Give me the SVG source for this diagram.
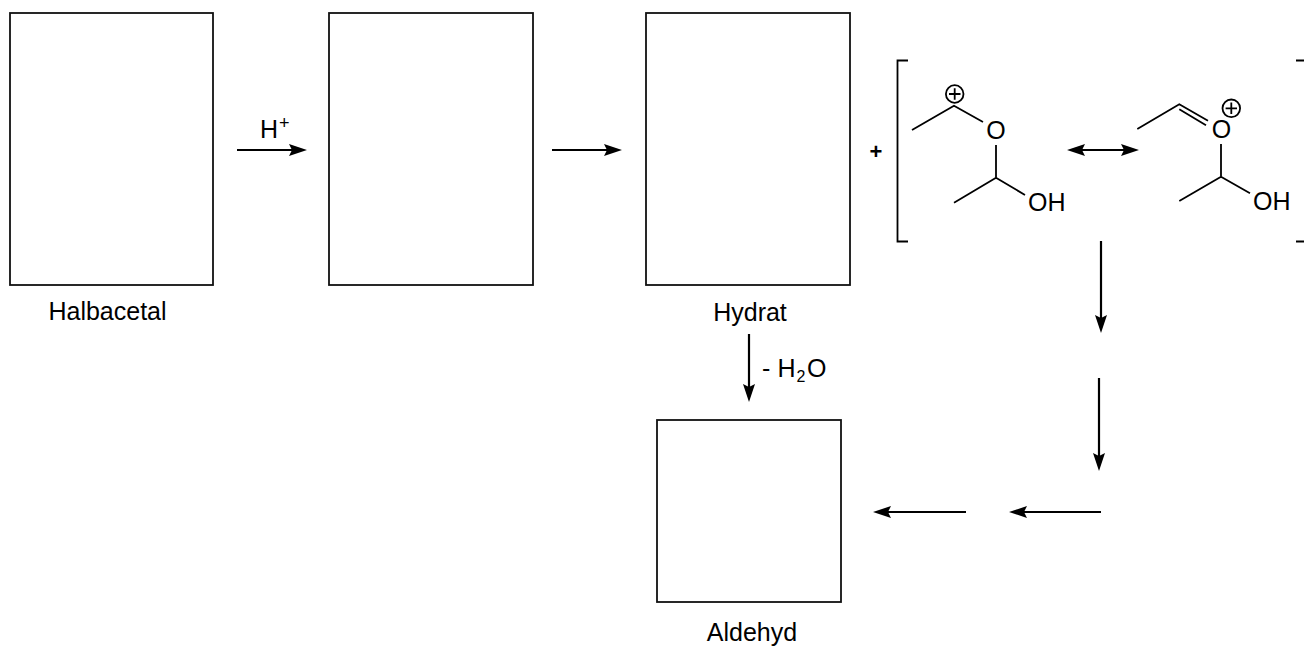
<svg xmlns="http://www.w3.org/2000/svg" width="1304" height="646" viewBox="0 0 1304 646">
<style>
text{font-family:"Liberation Sans",Arial,sans-serif;font-size:25px;fill:#000}
.box{fill:#fff;stroke:#111;stroke-width:1.8}
.b{fill:none;stroke:#000;stroke-width:1.8}
.c{fill:none;stroke:#000;stroke-width:2.2}
</style>
<defs>
<path id="h" d="M0 0L-18 -6L-15 0L-18 6Z" fill="#000"/>
</defs>
<g id="halbacetal"><rect class="box" x="10" y="13" width="203" height="272"/><text x="107.500" y="320" text-anchor="middle">Halbacetal</text></g>
<g id="intermediate"><rect class="box" x="329" y="13" width="204" height="272"/></g>
<g id="hydrat"><rect class="box" x="646" y="13" width="204" height="272"/><text x="750" y="321" text-anchor="middle">Hydrat</text></g>
<g id="aldehyd"><rect class="box" x="657" y="420" width="184" height="182"/><text x="752" y="641" text-anchor="middle">Aldehyd</text></g>
<g id="plus"><text x="876" y="159" text-anchor="middle" style="font-size:22px;font-weight:bold">+</text></g>
<g id="brackets">
<path class="b" d="M908 60.500H897.500V241.500H908"/>
<path class="b" d="M1296 60.500H1304M1296 241.500H1304"/>
</g>
<g id="resonance-left">
<path class="b" d="M912 130L954 105.700L983 122M996 145V177.700L954 202.700M996 177.700L1025 195"/>
<circle class="b" cx="954.700" cy="94" r="8.800"/>
<path class="b" d="M949 94H960.500M954.700 88.300V99.700"/>
<text x="996" y="139" text-anchor="middle">O</text>
<text x="1028" y="211">OH</text>
</g>
<g id="resonance-right">
<path class="b" d="M1137.300 129L1179.300 104.300L1208 120.700M1179.300 109.300L1206 125.300M1221 144V176.700L1179.300 201M1221 176.700L1250 193.300"/>
<circle class="b" cx="1231.300" cy="108.300" r="8.800"/>
<path class="b" d="M1225.600 108.300H1237M1231.300 102.600V114"/>
<text x="1221.500" y="138" text-anchor="middle">O</text>
<text x="1253" y="210">OH</text>
</g>
<g id="labels">
<text x="260" y="138">H</text><text x="279" y="129" style="font-size:18px">+</text>
<text x="762" y="377">-</text><text x="777.500" y="377">H</text><text x="796.500" y="382" style="font-size:16px">2</text><text x="807" y="377">O</text>
</g>
<g id="connectors">
<path class="c" d="M237 150H292"/><use href="#h" transform="translate(307 150)"/>
<path class="c" d="M552 150H607"/><use href="#h" transform="translate(622 150)"/>
<path class="c" d="M1082 150H1124"/><use href="#h" transform="translate(1139 150)"/><use href="#h" transform="translate(1067 150) rotate(180)"/>
<path class="c" d="M749 334V387"/><use href="#h" transform="translate(749 402) rotate(90)"/>
<path class="c" d="M1101 241V318"/><use href="#h" transform="translate(1101 333) rotate(90)"/>
<path class="c" d="M1099 378V456"/><use href="#h" transform="translate(1099 471) rotate(90)"/>
<path class="c" d="M1101 512H1024"/><use href="#h" transform="translate(1009 512) rotate(180)"/>
<path class="c" d="M966 512H888"/><use href="#h" transform="translate(873 512) rotate(180)"/>
</g>
</svg>
